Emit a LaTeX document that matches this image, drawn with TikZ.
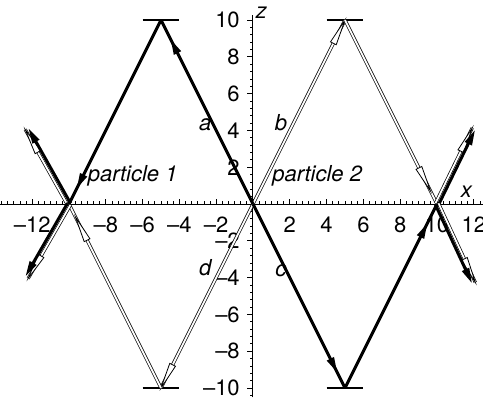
\documentclass[tikz,border=0pt]{standalone}
\usepackage{fontspec}
\setmainfont{TeX Gyre Heros}
\usetikzlibrary{arrows.meta,decorations.markings,calc}
\newcommand\hollowhead[2]{%
  \draw[line width=0.4pt,fill=white,line join=miter]
    (#2) -- ($(#2)!13pt!(#1)!1.6pt!90:(#2)$) -- ($(#2)!13pt!(#1)!1.6pt!-90:(#2)$) -- cycle;}
\newcommand\outpair[2]{%
  \coordinate (#1#2h0) at ($(#1)!0.85pt!90:(#2)$);
  \coordinate (#1#2h1) at ($(#2)!0.85pt!-90:(#1)$);
  \coordinate (#1#2k0) at ($(#1)!0.85pt!-90:(#2)$);
  \coordinate (#1#2k1) at ($(#2)!0.85pt!90:(#1)$);
  \draw[p2] (#1#2h0) -- (#1#2h1);
  \hollowhead{#1#2h0}{#1#2h1}
  \draw[p1,-{Triangle[length=8pt,width=3.6pt]}] (#1#2k0) -- (#1#2k1);}
\begin{document}
\begin{tikzpicture}[x=9.2pt,y=9.2pt,
  axisline/.style={line width=0.5pt},
  tickline/.style={line width=0.4pt},
  p1/.style={line width=1.5pt},
  p1mid/.style={p1, postaction={decorate}, decoration={markings, mark=at position #1 with {\arrow{Triangle[length=8pt,width=3.6pt]}}}},
  p2/.style={draw=black, line width=0.35pt, double=white, double distance=0.9pt},
  bar/.style={line width=1.4pt},
  lab/.style={font=\fontsize{11}{13}\selectfont\itshape, inner sep=0pt},
  ticklab/.style={font=\fontsize{11}{13}\selectfont, inner sep=0pt},
]
\useasboundingbox (-13.75,-10.71) rectangle (12.5,11.09);
% axes
\coordinate (xs) at (-13.75,0); \coordinate (xe) at (12.5,0);
\coordinate (zs) at (0,-10.5); \coordinate (ze) at (0,10.3);
\draw[axisline] (xs) -- (xe);
\draw[axisline] (zs) -- (ze);
\foreach \i in {-41,...,37} \draw[tickline] (\i/3,0) -- ++(0,1.5pt);
\foreach \i in {-6,...,6} \draw[tickline] (2*\i,0) -- ++(0,2.6pt);
\foreach \i in {-26,...,25} \draw[tickline] (0,\i*0.4) -- ++(-1.6pt,0);
\foreach \i in {-5,...,5} \draw[tickline] (0,2*\i) -- ++(-2.8pt,0);
\foreach \v/\t in {-12/–12,-8/–8,-6/–6,-4/–4,-2/–2,2/2,4/4,6/6,8/8,10/10,12/12}
  \node[ticklab,anchor=north] (xl\v) at (\v,-0.7) {\t};
\foreach \v/\t in {10/10,8/8,6/6,4/4,2/2,-2/–2,-4/–4,-6/–6,-8/–8,-10/–10}
  \node[ticklab,anchor=east] (zl\v) at (-0.7,\v) {\t};
% points
\coordinate (O) at (0,0);
\coordinate (TL) at (-5,10); \coordinate (TR) at (5,10);
\coordinate (BL) at (-5,-10); \coordinate (BR) at (5,-10);
\coordinate (L) at (-10,0); \coordinate (R) at (10,0);
\coordinate (UL) at (-12.3,4.1); \coordinate (DL) at (-12.3,-4.0);
\coordinate (UR) at (12,4.1); \coordinate (DR) at (12,-4.3);
% bars
\foreach \p in {TL,TR,BL,BR}
  \draw[bar] ($(\p)+(-1,0)$) -- ($(\p)+(1,0)$);
% particle 2 (hollow)
\draw[p2] (O) -- (TR); \hollowhead{O}{TR}
\draw[p2] (TR) -- (R); \coordinate (hR) at ($(TR)!0.93!(R)$); \hollowhead{TR}{hR}
\draw[p2] (O) -- (BL); \hollowhead{O}{BL}
\draw[p2] (BL) -- (L); \coordinate (hL) at ($(BL)!0.93!(L)$); \hollowhead{BL}{hL}
% outgoing pairs
\outpair{L}{UL}
\outpair{L}{DL}
\outpair{R}{UR}
\outpair{R}{DR}
% particle 1 (thick)
\draw[p1mid=0.9] (O) -- (TL);
\draw[p1mid=0.92] (TL) -- (L);
\draw[p1mid=0.92] (O) -- (BR);
\draw[p1mid=0.9] (BR) -- (R);
% labels
\node[lab, anchor=base west] (p1lab) at (-9.0,1.25) {particle 1};
\node[lab, anchor=base west] (p2lab) at (1.03,1.2) {particle 2};
\node[lab, anchor=base] (la) at (-2.6,4.0) {a};
\node[lab, anchor=base] (lb) at (1.52,4.0) {b};
\node[lab, anchor=base] (ld) at (-2.6,-3.86) {d};
\node[lab, anchor=base] (lc) at (1.52,-3.95) {c};
\node[lab, anchor=base] (lx) at (11.6,0.33) {x};
\node[lab, anchor=base] (lz) at (0.45,10.1) {z};
\end{tikzpicture}
\end{document}
